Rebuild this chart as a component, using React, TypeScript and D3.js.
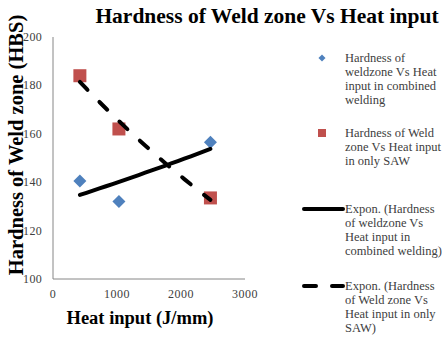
import React from "react";
import * as d3 from "d3";

const W = 448;
const H = 357;

const heatCombined = [420, 1030, 2460];
const hardCombined = [140.5, 132, 156.5];
const heatSaw = [420, 1030, 2460];
const hardSaw = [184, 162, 133.5];

const xTicks = [0, 1000, 2000, 3000];
const yTicks = [100, 120, 140, 160, 180, 200];

const legendLabels = [
  ["Hardness of", "weldzone Vs Heat", "input in combined", "welding"],
  ["Hardness of Weld", "zone Vs Heat input", "in only SAW"],
  ["Expon. (Hardness", "of weldzone Vs", "Heat input in", "combined welding)"],
  ["Expon. (Hardness", "of Weld zone Vs", "Heat input in only", "SAW)"],
];

const BLUE = "#4F81BD";
const RED = "#C0504D";
const FONT = "'Liberation Serif', 'Times New Roman', serif";

function expFit(xs: number[], ys: number[]) {
  const ls = ys.map((v) => Math.log(v));
  const mx = d3.mean(xs)!;
  const ml = d3.mean(ls)!;
  let sxy = 0;
  let sxx = 0;
  xs.forEach((x, i) => {
    sxy += (x - mx) * (ls[i] - ml);
    sxx += (x - mx) * (x - mx);
  });
  const b = sxy / sxx;
  const a = ml - b * mx;
  return (x: number) => Math.exp(a + b * x);
}

export default function App() {
  const x = d3.scaleLinear().domain([0, 3000]).range([53, 245]);
  const y = d3.scaleLinear().domain([100, 200]).range([279, 37]);

  const fitC = expFit(heatCombined, hardCombined);
  const fitS = expFit(heatSaw, hardSaw);
  const trendX = (xs: number[]) =>
    d3.range(0, 21).map((i) => d3.min(xs)! + (i / 20) * (d3.max(xs)! - d3.min(xs)!));
  const line = d3
    .line<[number, number]>()
    .x((d) => x(d[0]))
    .y((d) => y(d[1]));
  const pathC = line(trendX(heatCombined).map((v) => [v, fitC(v)]))!;
  const pathS = line(trendX(heatSaw).map((v) => [v, fitS(v)]))!;

  const legendX = 345;
  const legendY = [58, 133, 209, 286];
  const lh = 14;

  return (
    <svg
      width={W}
      height={H}
      style={{ position: "absolute", left: 0, top: 0, background: "#fff" }}
      fontFamily={FONT}
    >
      <rect width={W} height={H} fill="#fff" />
      <text x={267} y={23} textAnchor="middle" fontSize={21.5} fontWeight="bold" fill="#000">
        Hardness of Weld zone Vs Heat input
      </text>

      {/* axes */}
      <line x1={53} y1={37} x2={53} y2={279} stroke="#868686" strokeWidth={1} />
      <line x1={53} y1={279} x2={245} y2={279} stroke="#868686" strokeWidth={1} />

      {yTicks.map((t) => (
        <text key={t} x={42} y={y(t) + 4} textAnchor="end" fontSize={12} letterSpacing={0.3} fill="#404040">
          {t}
        </text>
      ))}
      {xTicks.map((t) => (
        <text key={t} x={x(t)} y={298} textAnchor="middle" fontSize={12} letterSpacing={0.5} fill="#404040">
          {t}
        </text>
      ))}

      <text
        transform={`translate(23,${145}) rotate(-90)`}
        textAnchor="middle"
        fontSize={20.5}
        fontWeight="bold"
        fill="#000"
      >
        Hardness of Weld zone (HBS)
      </text>
      <text x={140} y={324} textAnchor="middle" fontSize={18.5} fontWeight="bold" fill="#000">
        Heat input (J/mm)
      </text>

      {/* markers */}
      {heatSaw.map((h, i) => (
        <rect key={"s" + i} x={x(h) - 6.5} y={y(hardSaw[i]) - 6.5} width={13} height={13} fill={RED} />
      ))}
      {heatCombined.map((h, i) => (
        <rect
          key={"c" + i}
          x={-4.6}
          y={-4.6}
          width={9.2}
          height={9.2}
          transform={`translate(${x(h)},${y(hardCombined[i])}) rotate(45)`}
          fill={BLUE}
        />
      ))}

      {/* trendlines */}
      <path d={pathC} fill="none" stroke="#000" strokeWidth={4} strokeLinecap="round" />
      <path d={pathS} fill="none" stroke="#000" strokeWidth={4} strokeLinecap="round" strokeDasharray="11,17" />

      {/* legend */}
      <rect x={-2.5} y={-2.5} width={5} height={5} transform={`translate(322,${legendY[0]}) rotate(45)`} fill={BLUE} />
      <rect x={318} y={legendY[1] - 4} width={8} height={8} fill={RED} />
      <line x1={304} y1={legendY[2]} x2={343} y2={legendY[2]} stroke="#000" strokeWidth={4} strokeLinecap="round" />
      <line
        x1={304}
        y1={legendY[3]}
        x2={343}
        y2={legendY[3]}
        stroke="#000"
        strokeWidth={4}
        strokeLinecap="round"
        strokeDasharray="12,16"
      />
      {legendLabels.map((lines, k) => (
        <text key={k} fontSize={12.5} fill="#404040">
          {lines.map((s, j) => (
            <tspan key={j} x={legendX} y={legendY[k] + 4 + j * lh}>
              {s}
            </tspan>
          ))}
        </text>
      ))}
    </svg>
  );
}
